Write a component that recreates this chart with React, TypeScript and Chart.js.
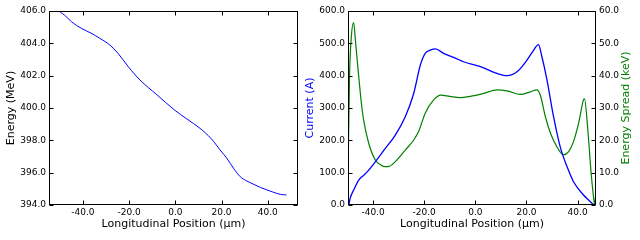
import React, { useEffect, useRef } from 'react';
import { Chart, registerables } from 'chart.js';

Chart.register(...registerables);

// ---- Data ----
const energyPos = [-50.1, -49.7, -48.0, -45.0, -40.7, -36.5, -32.7, -28.4, -24.8, -20.4, -15.3, -8.0, -0.4, 5.0, 10.7, 15.5, 19.4, 22.5, 25.2, 28.1, 31.0, 33.9, 36.8, 39.7, 42.6, 45.5, 48.1];
const energyVal = [405.96, 405.92, 405.75, 405.34, 404.93, 404.63, 404.31, 403.9, 403.38, 402.56, 401.73, 400.82, 399.88, 399.32, 398.74, 398.11, 397.4, 396.85, 396.27, 395.75, 395.48, 395.28, 395.09, 394.93, 394.78, 394.66, 394.62];

const currentPos = [-49.5, -48.9, -47.6, -45.6, -43.5, -41.7, -39.1, -35.2, -31.3, -27.4, -24.1, -21.5, -19.6, -17.6, -15.6, -12.4, -8.0, -4.6, 2.0, 8.5, 12.4, 16.3, 20.2, 22.5, 24.7, 26.0, 28.0, 30.6, 33.2, 35.9, 38.4, 42.3, 44.5, 46.3];
const currentVal = [0, 22, 46, 77, 93, 108, 134, 175, 216, 273, 345, 433, 469, 479, 483, 469, 455, 443, 428, 407, 400, 412, 448, 475, 496, 460, 388, 273, 180, 118, 72, 31, 14, 0];

const spreadPos = [-49.8, -49.6, -49.2, -48.5, -47.6, -46.8, -45.6, -44.5, -43.7, -41.7, -39.1, -37.0, -35.2, -33.5, -31.3, -27.4, -24.1, -22.2, -19.6, -16.3, -13.5, -10.0, -6.0, -2.0, 3.2, 8.5, 12.4, 17.6, 21.5, 24.1, 25.4, 27.4, 29.4, 31.9, 34.5, 36.5, 38.4, 40.4, 42.3, 42.7, 44.0, 45.3, 46.2, 46.6, 47.1];
const spreadVal = [0, 20, 40, 52, 56.4, 50, 39.7, 31, 26.3, 19.1, 13.9, 12.4, 11.85, 12, 13.4, 17, 20.1, 22.7, 28.4, 32.5, 34, 33.6, 33.2, 33.6, 34.5, 35.6, 35.3, 34.2, 35, 35.6, 34, 27.3, 22.2, 18, 15.5, 16.5, 19.6, 25.3, 32.5, 32.8, 23.2, 9.8, 2.6, 0.3, 3];

const posTicks = [-40, -20, 0, 20, 40];
const energyTicks = [394, 396, 398, 400, 402, 404, 406];
const currentTicks = [0, 100, 200, 300, 400, 500, 600];
const spreadTicks = [0, 10, 20, 30, 40, 50, 60];

const FONT = "'DejaVu Sans', Verdana, sans-serif";
const BLUE = '#0000ff';
const GREEN = '#008000';

const toPoints = (xs: number[], ys: number[]) => xs.map((x, i) => ({ x, y: ys[i] }));
const setTicks = (vals: number[]) => (scale: any) => {
  scale.ticks = vals.map((v) => ({ value: v }));
};
const fmt = (v: any) => Number(v).toFixed(1);

const frameTicks = {
  id: 'frameTicks',
  afterDraw(chart: any) {
    const { ctx, chartArea, scales } = chart;
    const l = Math.round(chartArea.left) + 0.5;
    const r = Math.round(chartArea.right) - 0.5;
    const t = Math.round(chartArea.top) + 0.5;
    const b = Math.round(chartArea.bottom) - 0.5;
    const tl = 4;
    ctx.save();
    ctx.strokeStyle = '#000';
    ctx.lineWidth = 1;
    ctx.strokeRect(l, t, r - l, b - t);
    ctx.beginPath();
    scales.x.ticks.forEach((tk: any) => {
      const px = Math.round(scales.x.getPixelForValue(tk.value)) + 0.5;
      ctx.moveTo(px, b);
      ctx.lineTo(px, b - tl);
      ctx.moveTo(px, t);
      ctx.lineTo(px, t + tl);
    });
    const yl = scales.y;
    const yr = scales.y2 || scales.y;
    yl.ticks.forEach((tk: any) => {
      const py = Math.round(yl.getPixelForValue(tk.value)) + 0.5;
      ctx.moveTo(l, py);
      ctx.lineTo(l + tl, py);
    });
    yr.ticks.forEach((tk: any) => {
      const py = Math.round(yr.getPixelForValue(tk.value)) + 0.5;
      ctx.moveTo(r, py);
      ctx.lineTo(r - tl, py);
    });
    ctx.stroke();
    ctx.restore();
  },
};

const rightTitle = {
  id: 'rightTitle',
  afterDraw(chart: any) {
    const { ctx, chartArea } = chart;
    ctx.save();
    ctx.translate(326, (chartArea.top + chartArea.bottom) / 2);
    ctx.rotate(-Math.PI / 2);
    ctx.font = `11px ${FONT}`;
    ctx.fillStyle = GREEN;
    ctx.textAlign = 'center';
    ctx.textBaseline = 'middle';
    ctx.fillText('Energy Spread (keV)', 0, 0);
    ctx.restore();
  },
};

const tickFont = { family: FONT, size: 9 };
const titleFont = { family: FONT, size: 11 };

function xAxis(min: number, max: number) {
  return {
    type: 'linear' as const,
    position: 'bottom' as const,
    min,
    max,
    afterBuildTicks: setTicks(posTicks),
    afterFit: (s: any) => { s.height = 35; },
    grid: { display: false, drawTicks: false },
    border: { display: false },
    ticks: { font: tickFont, color: '#000', padding: 2, maxRotation: 0, callback: fmt },
    title: { display: true, text: 'Longitudinal Position (μm)', font: titleFont, color: '#000', padding: { top: 0, bottom: 9 } },
  };
}

export default function App() {
  const leftRef = useRef<HTMLCanvasElement | null>(null);
  const rightRef = useRef<HTMLCanvasElement | null>(null);

  useEffect(() => {
    const c1 = new Chart(leftRef.current as HTMLCanvasElement, {
      type: 'line',
      data: {
        datasets: [
          {
            data: toPoints(energyPos, energyVal),
            borderColor: BLUE,
            borderWidth: 1,
            pointRadius: 0,
            cubicInterpolationMode: 'monotone',
            fill: false,
          },
        ],
      },
      options: {
        responsive: false,
        animation: false,
        devicePixelRatio: 1,
        parsing: false,
        layout: { padding: { top: 11, right: 2, bottom: 0, left: 0 } },
        plugins: { legend: { display: false }, tooltip: { enabled: false } },
        scales: {
          x: xAxis(-54.7, 53.1),
          y: {
            type: 'linear',
            position: 'left',
            min: 394,
            max: 406,
            afterBuildTicks: setTicks(energyTicks),
            afterFit: (s: any) => { s.width = 49; },
            grid: { display: false, drawTicks: false },
            border: { display: false },
            ticks: { font: tickFont, color: '#000', padding: 3, callback: fmt },
            title: { display: true, text: 'Energy (MeV)', font: titleFont, color: '#000', padding: { top: 5, bottom: 0 } },
          },
        },
      },
      plugins: [frameTicks],
    } as any);

    const c2 = new Chart(rightRef.current as HTMLCanvasElement, {
      type: 'line',
      data: {
        datasets: [
          {
            data: toPoints(currentPos, currentVal),
            borderColor: BLUE,
            borderWidth: 1.3,
            pointRadius: 0,
            cubicInterpolationMode: 'monotone',
            fill: false,
            yAxisID: 'y',
          },
          {
            data: toPoints(spreadPos, spreadVal),
            borderColor: GREEN,
            borderWidth: 1.2,
            pointRadius: 0,
            cubicInterpolationMode: 'monotone',
            fill: false,
            yAxisID: 'y2',
          },
        ],
      },
      options: {
        responsive: false,
        animation: false,
        devicePixelRatio: 1,
        parsing: false,
        layout: { padding: { top: 11, right: 0, bottom: 0, left: 0 } },
        plugins: { legend: { display: false }, tooltip: { enabled: false } },
        scales: {
          x: xAxis(-49.8, 47.2),
          y: {
            type: 'linear',
            position: 'left',
            min: 0,
            max: 600,
            afterBuildTicks: setTicks(currentTicks),
            afterFit: (s: any) => { s.width = 48; },
            grid: { display: false, drawTicks: false },
            border: { display: false },
            ticks: { font: tickFont, color: '#000', padding: 3, callback: fmt },
            title: { display: true, text: 'Current (A)', font: titleFont, color: BLUE, padding: { top: 4, bottom: 0 } },
          },
          y2: {
            type: 'linear',
            position: 'right',
            min: 0,
            max: 60,
            afterBuildTicks: setTicks(spreadTicks),
            afterFit: (s: any) => { s.width = 44; },
            grid: { display: false, drawTicks: false },
            border: { display: false },
            ticks: { font: tickFont, color: '#000', padding: 3, callback: fmt },
            title: { display: false },
          },
        },
      },
      plugins: [frameTicks, rightTitle],
    } as any);

    return () => {
      c1.destroy();
      c2.destroy();
    };
  }, []);

  return (
    <div style={{ position: 'fixed', left: 0, top: 0, width: 640, height: 240, background: '#fff', overflow: 'hidden' }}>
      <canvas ref={leftRef} width={300} height={240} style={{ position: 'absolute', left: 0, top: 0, width: 300, height: 240 }} />
      <canvas ref={rightRef} width={340} height={240} style={{ position: 'absolute', left: 300, top: 0, width: 340, height: 240 }} />
    </div>
  );
}
